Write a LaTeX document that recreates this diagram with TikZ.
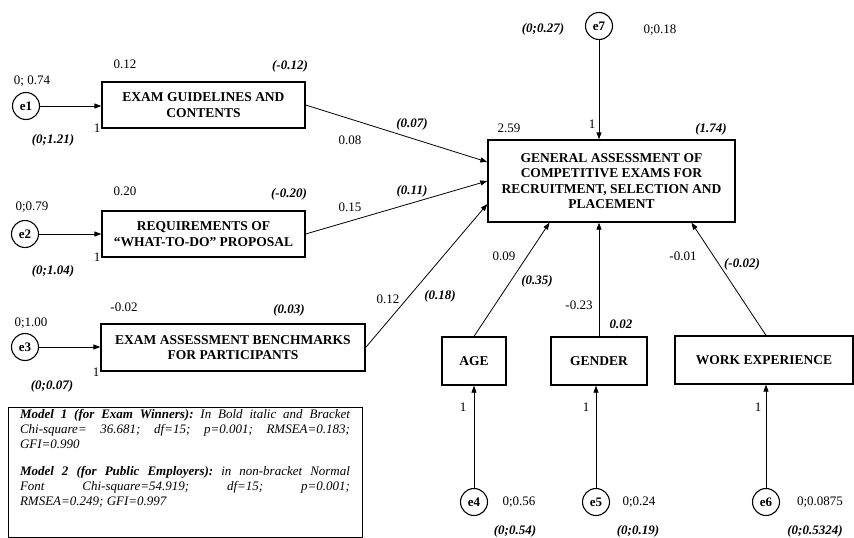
\documentclass[tikz,border=0pt]{standalone}
\usepackage{fontspec}
\setmainfont{Liberation Serif}
\usetikzlibrary{arrows.meta,positioning,calc}
\tikzset{
  obsbox/.style={rectangle, draw=black, line width=1.3pt, align=center, inner sep=2pt, font=\fontsize{13.5}{15.5}\selectfont\bfseries},
  errv/.style={circle, draw=black, line width=1.1pt, minimum size=27pt, inner sep=0pt, font=\fontsize{13}{15}\selectfont\bfseries},
  regarrow/.style={-{Triangle[length=7pt,width=5pt]}, line width=0.8pt},
  val/.style={inner sep=0pt, font=\fontsize{13}{15}\selectfont},
  est/.style={inner sep=0pt, font=\fontsize{13}{15}\selectfont\bfseries\itshape},
  legendbox/.style={rectangle, draw=black, line width=1pt, minimum width=354pt, minimum height=130pt},
  legendtxt/.style={inner sep=0pt, text width=330pt, align=justify, font=\fontsize{13}{15}\selectfont\itshape\frenchspacing}
}

\begin{document}
\begin{tikzpicture}[x=1pt,y=-1pt]
  \useasboundingbox (0,0) rectangle (854,538);

  % exogenous observed variables
  \node[obsbox, minimum width=203pt, minimum height=46pt] (guide) at (203.5,105) {EXAM GUIDELINES AND\\CONTENTS};
  \node[obsbox, minimum width=203pt, minimum height=46pt] (reqs) at (203.5,234) {REQUIREMENTS OF\\“WHAT-TO-DO” PROPOSAL};
  \node[obsbox, minimum width=264pt, minimum height=47pt] (bench) at (233,347.5) {EXAM ASSESSMENT BENCHMARKS\\FOR PARTICIPANTS};
  \node[errv] (e1) at (26,106) {e1};
  \node[errv] (e2) at (25,234) {e2};
  \node[errv] (e3) at (25,347) {e3};
  \draw[regarrow] (e1) -- (e1 -| guide.west);
  \draw[regarrow] (e2) -- (e2 -| reqs.west);
  \draw[regarrow] (e3) -- (e3 -| bench.west);

  \node[val] (v1a) at (32,81) {0; 0.74};
  \node[val] (v1b) at (125,64) {0.12};
  \node[est] (m1b) at (290,66) {(-0.12)};
  \node[val] (w1) at (97,128) {1};
  \node[est] (m1a) at (53,140) {(0;1.21)};

  \node[val] (v2a) at (32,207) {0;0.79};
  \node[val] (v2b) at (125,191) {0.20};
  \node[est] (m2b) at (289,194) {(-0.20)};
  \node[val] (w2) at (97,257) {1};
  \node[est] (m2a) at (53,271) {(0;1.04)};

  \node[val] (v3a) at (31,323) {0;1.00};
  \node[val] (v3b) at (124,307) {-0.02};
  \node[est] (m3b) at (289,310) {(0.03)};
  \node[val] (w3) at (96,372) {1};
  \node[est] (m3a) at (52,386) {(0;0.07)};

  % endogenous variable
  \node[obsbox, minimum width=247pt, minimum height=82pt] (general) at (611.5,181) {GENERAL ASSESSMENT OF\\COMPETITIVE EXAMS FOR\\RECRUITMENT, SELECTION AND\\PLACEMENT};
  \node[errv] (e7) at (599,26) {e7};
  \draw[regarrow] (e7) -- (e7 |- general.north);
  \node[est] (m7) at (543,29) {(0;0.27)};
  \node[val] (v7) at (660,30) {0;0.18};
  \node[val] (w7) at (592,124) {1};
  \node[val] (vg) at (509,128) {2.59};
  \node[est] (mg) at (711,129) {(1.74)};

  \draw[regarrow] (guide.east) -- ([yshift=19pt]general.west);
  \draw[regarrow] (reqs.east) -- (general.west);
  \draw[regarrow] (bench.east) -- ([yshift=-23pt]general.west);
  \node[val] (p1) at (350,140) {0.08};
  \node[est] (q1) at (412,124) {(0.07)};
  \node[val] (p2) at (350,207) {0.15};
  \node[est] (q2) at (412,191) {(0.11)};
  \node[val] (p3) at (388,299) {0.12};
  \node[est] (q3) at (440,296) {(0.18)};

  % control variables
  \node[obsbox, minimum width=64pt, minimum height=48pt] (age) at (474,361) {AGE};
  \node[obsbox, minimum width=96pt, minimum height=48pt] (gender) at (599,361) {GENDER};
  \node[obsbox, minimum width=178pt, minimum height=48pt] (workexp) at (764,360) {WORK EXPERIENCE};
  \draw[regarrow] (age.north) -- ([xshift=-62pt]general.south);
  \draw[regarrow] (gender.north) -- (gender.north |- general.south);
  \draw[regarrow] ([xshift=2pt]workexp.north) -- ([xshift=80pt]general.south);
  \node[val] (p4) at (504,256) {0.09};
  \node[est] (q4) at (537,281) {(0.35)};
  \node[val] (p5) at (579,305) {-0.23};
  \node[est] (q5) at (621,324) {0.02};
  \node[val] (p6) at (683,256) {-0.01};
  \node[est] (q6) at (742,264) {(-0.02)};

  \node[errv] (e4) at (474,502) {e4};
  \node[errv] (e5) at (596,502) {e5};
  \node[errv] (e6) at (766,502) {e6};
  \draw[regarrow] (e4) -- (e4 |- age.south);
  \draw[regarrow] (e5) -- (e5 |- gender.south);
  \draw[regarrow] (e6) -- (e6 |- workexp.south);
  \node[val] (w4) at (463,407) {1};
  \node[val] (w5) at (586,407) {1};
  \node[val] (w6) at (758,407) {1};
  \node[val] (v4) at (519,502) {0;0.56};
  \node[val] (v5) at (639,502) {0;0.24};
  \node[val] (v6) at (820,502) {0;0.0875};
  \node[est] (m4) at (515,531) {(0;0.54)};
  \node[est] (m5) at (638,531) {(0;0.19)};
  \node[est] (m6) at (815,531) {(0;0.5324)};

  % fit indices
  \node[legendbox] (legend) at (185,472) {};
  \node[legendtxt, anchor=north] (legtext) at ([yshift=-3pt]legend.north) {%
    {\bfseries Model 1 (for Exam Winners):} In Bold italic and Bracket\linebreak
    Chi-square= 36.681; df=15; p=0.001; RMSEA=0.183;\linebreak
    GFI=0.990\par\vspace{12pt}
    {\bfseries Model 2 (for Public Employers):} in non-bracket Normal\linebreak
    Font Chi-square=54.919; df=15; p=0.001;\linebreak
    RMSEA=0.249; GFI=0.997};
\end{tikzpicture}
\end{document}
